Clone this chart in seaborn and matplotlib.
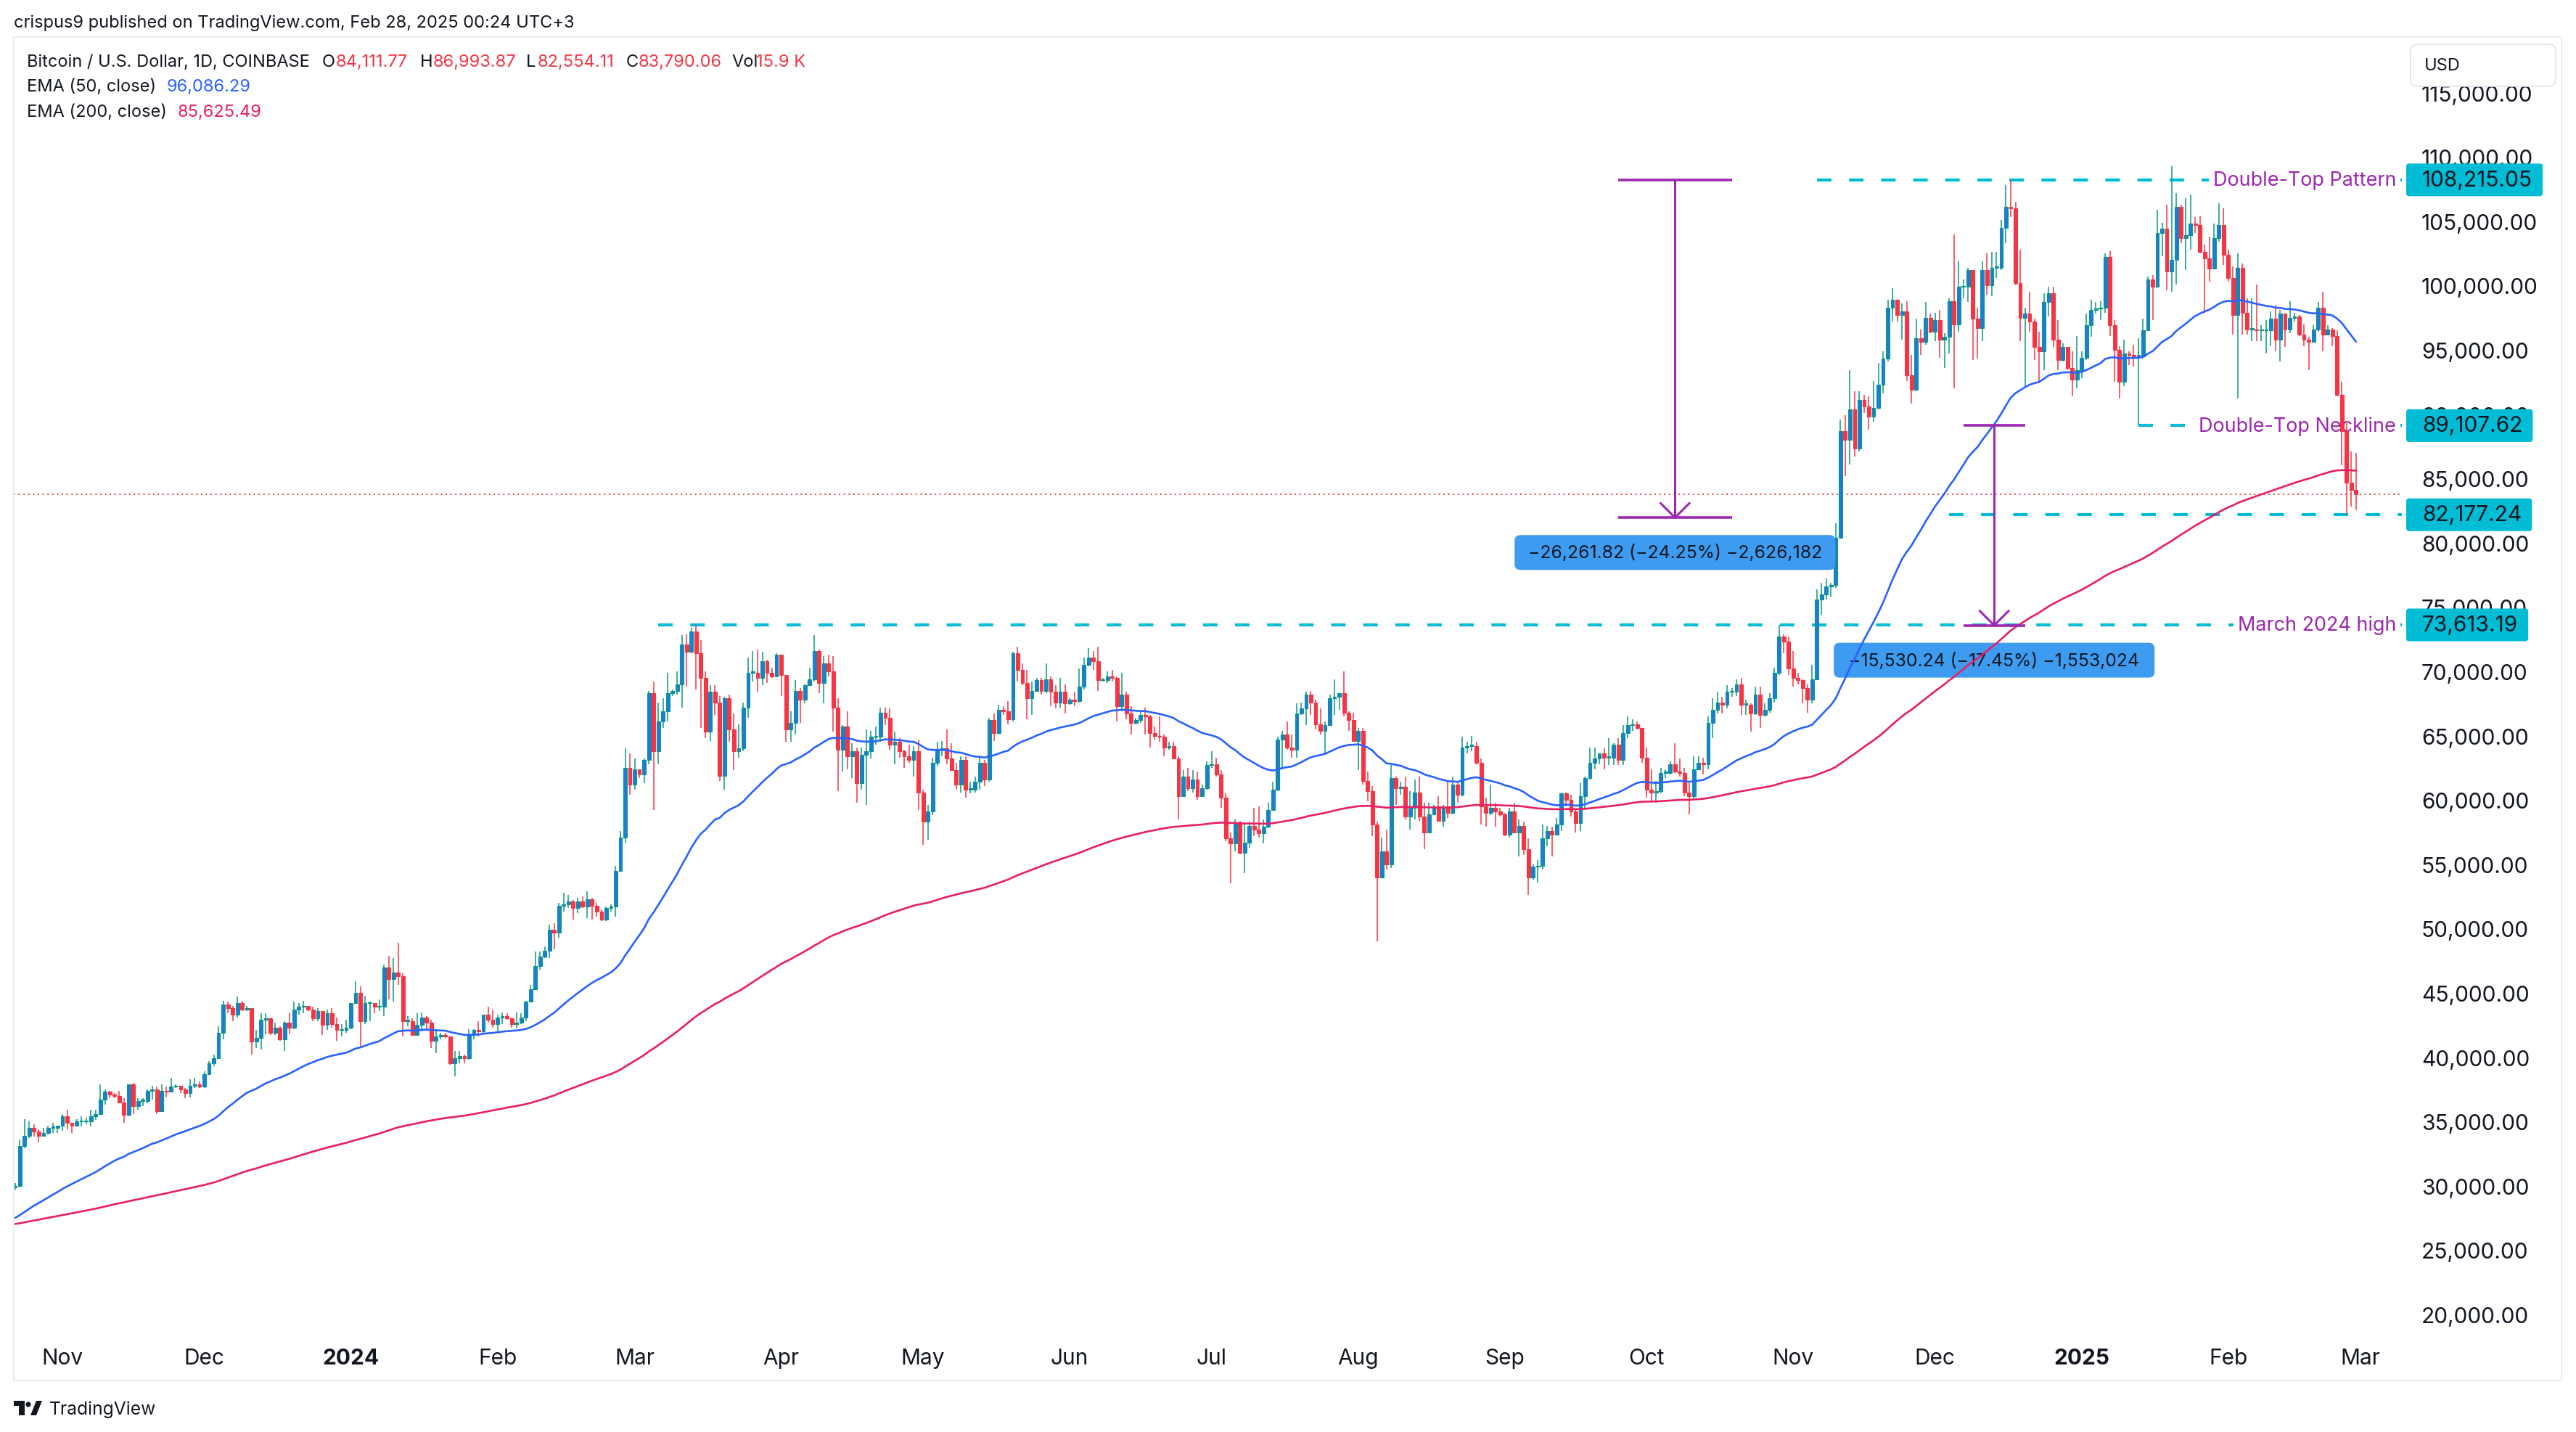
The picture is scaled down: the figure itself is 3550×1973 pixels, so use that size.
import numpy as np
import pandas as pd
import matplotlib
matplotlib.use("Agg")
import matplotlib.pyplot as plt
import matplotlib.transforms as mtrans
from matplotlib.patches import FancyBboxPatch, Polygon, Circle, Rectangle
import seaborn as sns

# ---------------------------------------------------------------- data
# BTC/USD daily candles (Coinbase), values in thousands of USD
start_date = "2023-10-22"
end_date = "2025-02-28"
first_open_k = 29.9

close_k = [
    # 2023-10 (22..31)
    [30.0, 33.1, 33.9, 34.5, 34.2, 33.9, 34.1, 34.5, 34.5, 34.7],
    # 2023-11
    [35.4, 34.9, 34.7, 35.0, 35.0, 35.0, 35.4, 35.6, 36.7, 37.3,
     37.1, 37.0, 36.5, 35.5, 37.9, 36.2, 36.6, 36.6, 37.4, 37.5,
     35.8, 37.4, 37.3, 37.7, 37.8, 37.5, 37.2, 37.8, 37.9, 37.7],
    # 2023-12
    [38.7, 39.5, 39.9, 41.9, 44.1, 43.8, 43.3, 44.2, 43.7, 43.8,
     41.2, 41.5, 42.9, 43.0, 41.9, 42.3, 41.4, 42.7, 42.3, 43.7,
     43.9, 44.0, 43.7, 43.0, 43.6, 42.5, 43.4, 42.6, 42.1, 42.1,
     42.3],
    # 2024-01
    [44.2, 45.0, 42.8, 44.2, 44.2, 43.9, 43.9, 47.0, 46.1, 46.6,
     46.3, 42.8, 42.8, 41.7, 42.5, 43.1, 42.7, 41.3, 41.6, 41.7,
     41.6, 39.5, 39.9, 40.1, 39.9, 41.8, 42.1, 42.0, 43.3, 42.9,
     42.6],
    # 2024-02
    [43.1, 43.2, 43.0, 42.6, 42.7, 43.1, 44.3, 45.3, 47.1, 47.8,
     48.3, 49.9, 49.7, 51.8, 51.9, 52.1, 51.6, 52.1, 51.7, 52.3,
     51.8, 51.3, 50.7, 51.6, 51.7, 54.5, 57.1, 62.5, 61.2],
    # 2024-03
    [62.4, 62.0, 63.1, 68.3, 63.8, 66.1, 66.9, 68.3, 68.5, 69.0,
     72.1, 71.5, 73.1, 71.4, 69.5, 65.3, 68.4, 67.6, 61.9, 67.9,
     65.5, 63.8, 64.0, 67.2, 69.9, 69.9, 69.5, 70.8, 69.9, 69.6,
     71.3],
    # 2024-04
    [69.7, 65.5, 66.0, 68.5, 67.8, 68.9, 69.4, 71.6, 69.1, 70.6,
     70.0, 67.2, 63.9, 65.7, 63.4, 63.8, 61.3, 63.5, 63.8, 64.9,
     64.9, 66.8, 66.4, 64.3, 64.5, 63.8, 63.4, 63.1, 63.8, 60.6],
    # 2024-05
    [58.3, 59.1, 62.9, 63.9, 64.0, 63.2, 62.3, 61.2, 63.1, 60.8,
     60.8, 61.4, 62.9, 61.6, 66.2, 65.2, 67.0, 66.9, 66.3, 71.4,
     70.1, 69.1, 67.9, 68.5, 69.3, 68.5, 69.4, 68.4, 67.6, 68.4,
     67.5],
    # 2024-06
    [67.8, 67.7, 68.8, 70.5, 71.1, 70.8, 69.3, 69.3, 69.6, 69.5,
     67.3, 68.2, 66.7, 66.0, 66.2, 66.6, 66.5, 65.2, 65.0, 64.9,
     64.1, 64.2, 63.2, 60.3, 61.8, 60.9, 61.6, 60.3, 60.9, 62.7],
    # 2024-07
    [62.8, 62.0, 60.2, 57.0, 56.6, 58.2, 55.9, 56.7, 58.0, 57.7,
     57.4, 57.9, 59.2, 60.8, 64.7, 65.1, 64.1, 63.9, 66.7, 67.1,
     68.2, 67.6, 65.9, 65.4, 65.8, 67.9, 68.0, 68.3, 66.8, 66.2,
     64.6],
    # 2024-08
    [65.4, 61.5, 60.7, 58.1, 54.0, 56.0, 55.0, 61.7, 60.9, 61.0,
     58.7, 59.4, 60.6, 58.7, 57.5, 58.9, 59.5, 58.4, 59.5, 59.0,
     61.2, 60.4, 64.1, 64.2, 64.2, 62.9, 59.5, 59.0, 59.4, 59.1,
     58.9],
    # 2024-09
    [57.3, 59.1, 57.5, 58.0, 56.2, 54.0, 54.8, 54.9, 57.0, 57.6,
     57.3, 58.1, 60.5, 60.0, 59.1, 58.2, 60.3, 61.7, 62.9, 63.2,
     63.6, 63.3, 63.3, 64.3, 63.1, 65.2, 65.8, 65.9, 65.6, 63.3],
    # 2024-10
    [60.8, 60.6, 60.7, 62.1, 62.1, 62.8, 62.2, 62.1, 60.6, 60.3,
     62.4, 62.9, 62.8, 66.0, 67.0, 67.6, 67.4, 68.4, 68.4, 69.0,
     67.4, 67.4, 66.7, 68.2, 66.6, 67.0, 67.9, 69.9, 72.7, 72.3,
     70.2],
    # 2024-11
    [69.5, 69.3, 68.7, 67.8, 69.4, 75.6, 76.0, 76.6, 76.7, 80.4,
     88.7, 88.0, 90.4, 87.3, 91.1, 90.6, 89.8, 90.5, 92.3, 94.3,
     98.3, 98.9, 97.7, 98.0, 93.0, 91.9, 95.9, 95.6, 97.5, 96.4],
    # 2024-12
    [97.3, 95.8, 96.0, 98.8, 97.0, 99.9, 99.9, 101.2, 97.4, 96.7,
     101.2, 100.0, 101.4, 101.4, 104.5, 106.1, 106.0, 100.2, 97.5, 97.8,
     97.2, 95.2, 94.9, 98.7, 99.4, 95.8, 94.2, 95.2, 93.6, 92.7,
     93.4],
    # 2025-01
    [94.4, 96.9, 98.1, 98.2, 98.3, 102.2, 96.9, 95.0, 92.5, 94.7,
     94.6, 94.5, 94.5, 96.5, 100.5, 99.9, 104.1, 104.4, 101.1, 102.0,
     106.1, 103.7, 103.9, 104.8, 104.7, 102.6, 102.1, 101.3, 103.7, 104.7,
     102.4],
    # 2025-02
    [100.6, 97.7, 101.4, 97.9, 96.6, 96.6, 96.5, 96.5, 96.5, 97.4,
     95.8, 97.8, 96.6, 97.5, 97.6, 96.2, 95.8, 95.6, 96.6, 98.3,
     96.2, 96.6, 96.1, 91.5, 88.7, 84.7, 84.11177, 83.79006],
]

high_k = [
    [30.2, 33.6, 35.2, 35.0, 34.8, 34.4, 34.5, 34.7, 34.9, 34.7],
    [35.6, 35.9, 34.9, 35.2, 35.4, 35.3, 35.9, 35.9, 37.9, 37.5,
     37.4, 37.2, 37.4, 36.8, 37.9, 38.0, 36.8, 36.8, 37.5, 37.8,
     37.7, 37.9, 37.7, 38.4, 37.9, 37.8, 37.6, 38.3, 38.4, 38.1],
    [38.9, 39.7, 40.2, 42.4, 44.4, 44.3, 44.0, 44.7, 44.4, 44.0,
     43.8, 42.1, 43.4, 43.4, 43.1, 42.7, 42.4, 42.8, 43.5, 44.3,
     44.2, 44.4, 44.0, 43.9, 43.8, 43.6, 43.7, 43.8, 43.1, 42.6,
     42.9],
    [44.2, 45.9, 45.5, 44.8, 44.3, 44.2, 44.5, 47.2, 47.9, 47.7,
     48.9, 46.5, 43.2, 43.0, 43.4, 43.5, 43.2, 42.9, 42.2, 41.9,
     41.9, 41.6, 40.5, 40.5, 40.2, 42.2, 42.2, 42.8, 43.3, 43.9,
     43.7],
    [43.3, 43.5, 43.4, 43.1, 43.5, 43.4, 44.4, 45.6, 48.2, 48.2,
     48.6, 50.3, 50.4, 52.0, 52.8, 52.6, 52.2, 52.4, 52.5, 52.9,
     52.4, 52.0, 51.5, 51.7, 51.9, 54.9, 57.6, 64.0, 63.6],
    [63.2, 62.4, 63.2, 68.5, 69.2, 67.6, 67.9, 69.9, 68.6, 70.0,
     72.8, 72.9, 73.4, 73.61319, 72.4, 70.0, 68.9, 68.9, 68.1, 68.0,
     68.2, 66.7, 65.9, 67.6, 71.1, 71.6, 71.7, 71.5, 70.9, 70.3,
     71.4],
    [71.3, 69.7, 66.9, 69.3, 68.7, 69.0, 70.3, 72.8, 71.7, 71.2,
     71.3, 71.2, 67.9, 65.8, 66.9, 64.4, 64.1, 64.1, 65.5, 65.4,
     65.7, 67.2, 67.2, 67.1, 65.3, 64.8, 63.9, 64.3, 64.2, 64.7],
    [60.8, 59.6, 63.3, 64.5, 64.6, 65.5, 64.4, 62.9, 63.4, 63.4,
     61.4, 61.8, 63.4, 63.1, 66.4, 66.7, 67.4, 67.3, 67.7, 71.5,
     71.9, 70.6, 70.1, 69.2, 69.5, 69.5, 70.6, 69.6, 68.9, 69.5,
     69.0],
    [67.9, 68.4, 70.2, 71.1, 71.8, 71.6, 71.9, 69.5, 70.0, 70.1,
     69.6, 69.9, 68.4, 67.3, 66.4, 66.9, 67.2, 66.6, 65.7, 66.5,
     65.1, 64.5, 64.5, 63.4, 62.3, 62.5, 62.3, 62.2, 61.2, 63.0],
    [63.8, 63.3, 62.3, 60.5, 57.5, 58.5, 58.4, 58.2, 58.3, 59.4,
     59.5, 58.5, 59.8, 61.4, 64.9, 65.4, 66.1, 65.1, 67.5, 67.6,
     68.4, 68.5, 67.8, 67.1, 66.1, 68.2, 69.4, 68.3, 70.0, 66.9,
     66.8],
    [65.6, 65.6, 62.2, 61.1, 58.3, 57.1, 57.7, 62.7, 61.8, 61.4,
     61.8, 60.7, 61.6, 61.8, 59.8, 59.8, 59.6, 60.3, 59.6, 61.4,
     61.8, 61.4, 64.9, 64.5, 65.0, 64.5, 63.2, 60.2, 61.2, 59.8,
     59.4],
    [59.0, 59.4, 59.8, 58.5, 58.3, 57.0, 55.0, 55.3, 58.1, 58.0,
     57.9, 58.6, 60.6, 60.6, 60.4, 59.2, 61.3, 61.8, 64.1, 64.1,
     63.6, 64.0, 64.8, 64.4, 64.8, 65.8, 66.5, 66.3, 66.1, 65.6],
    [64.1, 62.4, 61.5, 62.5, 62.4, 63.0, 64.4, 63.2, 62.5, 61.3,
     63.4, 63.4, 63.3, 66.5, 67.9, 68.4, 68.0, 68.9, 68.7, 69.4,
     69.5, 67.8, 67.5, 68.8, 68.8, 67.5, 68.3, 70.3, 73.6, 72.9,
     72.7],
    [71.6, 69.9, 69.4, 69.0, 70.5, 76.4, 76.9, 77.2, 76.9, 81.5,
     89.6, 89.9, 93.4, 91.8, 91.8, 91.5, 91.4, 92.6, 94.0, 94.9,
     98.9, 99.8, 98.8, 98.6, 98.8, 94.6, 97.4, 96.6, 98.7, 97.8],
    [97.9, 98.1, 96.3, 99.0, 104.0, 101.9, 100.5, 101.4, 101.2, 98.3,
     101.9, 102.5, 102.6, 102.6, 105.1, 107.8, 108.21505, 106.5, 102.8, 98.3,
     99.5, 97.4, 96.4, 99.4, 99.9, 99.9, 97.3, 95.5, 95.2, 94.9,
     96.1],
    [94.9, 97.8, 98.9, 98.7, 98.8, 102.5, 102.7, 97.3, 95.3, 95.8,
     94.9, 95.4, 95.9, 97.4, 100.7, 100.8, 105.9, 104.9, 106.3, 109.3,
     107.2, 106.3, 106.8, 107.1, 105.3, 105.4, 103.2, 103.8, 104.8, 106.4,
     106.0],
    [102.8, 101.5, 102.5, 101.7, 99.0, 99.0, 100.1, 96.9, 97.3, 98.0,
     98.5, 98.1, 97.3, 98.8, 97.9, 97.7, 97.0, 96.0, 96.9, 98.7,
     99.5, 96.9, 96.7, 96.5, 92.5, 89.3, 87.1, 86.99387],
]

low_k = [
    [29.7, 29.9, 32.9, 33.7, 33.8, 33.4, 33.9, 34.0, 34.1, 34.1],
    [34.3, 34.4, 34.1, 34.6, 34.6, 34.8, 34.6, 35.1, 35.5, 36.3,
     36.8, 36.8, 36.4, 34.9, 35.4, 35.6, 35.9, 36.2, 36.4, 36.7,
     35.6, 35.8, 36.9, 37.3, 37.6, 37.2, 36.8, 36.9, 37.6, 37.6],
    [37.6, 38.6, 39.3, 39.9, 41.4, 43.4, 42.8, 43.1, 43.6, 43.6,
     40.2, 40.7, 40.6, 41.8, 41.7, 41.7, 41.3, 40.5, 41.8, 42.2,
     43.3, 43.4, 43.6, 42.8, 42.8, 41.7, 42.1, 42.3, 41.3, 41.6,
     41.9],
    [42.2, 44.2, 40.8, 42.6, 42.8, 43.4, 43.6, 43.2, 44.5, 44.3,
     45.6, 41.6, 42.4, 41.7, 41.7, 42.0, 42.2, 40.7, 40.3, 41.4,
     41.5, 39.4, 38.5, 39.5, 39.5, 39.8, 41.4, 41.6, 41.8, 42.7,
     42.3],
    [41.9, 42.6, 42.9, 42.3, 42.3, 42.6, 42.8, 44.3, 45.3, 46.8,
     47.7, 47.7, 48.4, 49.3, 51.3, 51.6, 50.7, 51.2, 51.6, 50.8,
     50.7, 50.9, 50.6, 50.6, 51.3, 50.9, 54.5, 56.7, 60.4],
    [60.8, 61.7, 61.3, 62.8, 59.2, 62.8, 65.6, 66.1, 68.1, 68.2,
     67.2, 68.8, 71.4, 68.6, 65.6, 64.8, 64.6, 66.6, 61.5, 60.8,
     64.5, 62.3, 63.3, 63.8, 66.4, 69.2, 68.4, 68.9, 69.1, 69.5,
     69.6],
    [68.1, 64.5, 64.5, 65.1, 66.0, 67.5, 68.9, 69.2, 68.3, 67.5,
     69.6, 65.3, 60.7, 62.2, 62.4, 61.7, 59.8, 60.8, 59.6, 63.2,
     64.3, 64.5, 65.8, 63.9, 62.8, 63.3, 62.5, 62.9, 61.8, 59.2],
    [56.5, 56.9, 58.8, 62.6, 63.4, 62.8, 62.3, 60.8, 60.6, 60.2,
     60.5, 60.6, 60.8, 61.1, 61.4, 64.6, 65.1, 66.6, 65.9, 66.1,
     69.2, 68.9, 66.3, 66.6, 68.5, 68.2, 68.3, 67.3, 67.1, 67.2,
     66.7],
    [67.4, 67.3, 67.6, 68.6, 70.4, 70.1, 68.5, 69.2, 69.1, 69.2,
     66.1, 66.9, 66.3, 65.1, 65.9, 66.0, 65.1, 64.1, 64.7, 64.5,
     63.4, 63.9, 63.2, 58.5, 60.3, 60.7, 60.6, 60.0, 60.4, 60.8],
    [62.5, 61.8, 59.4, 56.8, 53.5, 56.0, 55.8, 54.3, 56.3, 57.2,
     57.1, 56.6, 57.8, 59.2, 60.7, 62.4, 63.9, 63.3, 63.3, 66.6,
     65.8, 66.6, 65.5, 65.1, 63.5, 65.8, 66.6, 67.0, 66.5, 65.4,
     64.5],
    [62.3, 61.2, 59.9, 57.2, 49.0, 54.0, 54.6, 54.7, 59.6, 60.4,
     58.5, 57.7, 58.5, 58.4, 56.2, 57.5, 58.8, 58.4, 57.9, 58.6,
     58.9, 59.8, 60.3, 63.6, 63.8, 62.8, 58.1, 57.9, 58.8, 57.9,
     58.7],
    [57.2, 57.1, 57.4, 55.6, 55.7, 52.6, 53.8, 53.6, 54.6, 56.4,
     55.6, 57.3, 57.6, 59.5, 58.7, 57.5, 57.6, 59.2, 61.6, 62.4,
     62.8, 62.4, 62.7, 62.7, 62.7, 62.7, 64.8, 65.4, 65.5, 62.9],
    [60.2, 59.9, 59.8, 60.5, 61.7, 62.0, 62.1, 61.8, 60.3, 58.9,
     60.1, 62.3, 62.0, 62.4, 64.8, 66.7, 66.7, 67.1, 68.0, 68.1,
     66.6, 66.6, 65.3, 66.6, 65.6, 66.5, 66.8, 67.6, 69.7, 71.4,
     69.7],
    [68.8, 69.0, 67.5, 66.8, 67.5, 69.3, 74.4, 75.6, 75.8, 76.5,
     80.3, 85.2, 86.1, 86.7, 87.1, 90.1, 88.8, 89.4, 90.4, 91.6,
     94.1, 97.2, 97.2, 95.8, 92.6, 90.8, 91.8, 94.6, 95.4, 96.3],
    [95.7, 94.4, 93.6, 94.7, 92.0, 96.4, 99.0, 98.7, 94.2, 94.3,
     95.7, 99.3, 99.2, 100.6, 101.2, 103.3, 105.3, 100.0, 95.7, 92.1,
     96.4, 94.2, 92.4, 93.4, 97.6, 95.2, 93.4, 94.1, 93.4, 91.4,
     92.0],
    [92.8, 94.2, 96.0, 97.8, 97.3, 97.9, 96.1, 92.5, 91.2, 92.2,
     93.8, 93.7, 89.10762, 94.3, 96.5, 97.3, 99.9, 102.3, 99.6, 99.5,
     100.1, 103.3, 101.2, 102.8, 104.1, 102.5, 97.8, 100.3, 101.3, 103.4,
     101.6],
    [100.3, 96.2, 91.2, 96.2, 96.2, 95.7, 95.7, 95.7, 94.7, 95.3,
     94.9, 94.1, 95.2, 96.3, 97.2, 96.1, 95.3, 93.4, 95.6, 96.4,
     94.9, 96.2, 95.3, 91.4, 86.0, 82.17724, 82.8, 82.55411],
]

last_open = 84111.77
ema50_seed = 27400.0     # EMA values just before the first visible candle
ema200_seed = 27000.0

header_text = "crispus9 published on TradingView.com, Feb 28, 2025 00:24 UTC+3"
symbol_text = "Bitcoin / U.S. Dollar, 1D, COINBASE"
ohlc_labels = ["O", "H", "L", "C", "Vol"]
ohlc_values = ["84,111.77", "86,993.87", "82,554.11", "83,790.06", "15.9 K"]
ema_labels = ["EMA (50, close)", "EMA (200, close)"]
ema_values = ["96,086.29", "85,625.49"]

price_ticks = list(range(20000, 115001, 5000))
month_ticks = ["2023-11-01", "2023-12-01", "2024-01-01", "2024-02-01", "2024-03-01",
               "2024-04-01", "2024-05-01", "2024-06-01", "2024-07-01", "2024-08-01",
               "2024-09-01", "2024-10-01", "2024-11-01", "2024-12-01", "2025-01-01",
               "2025-02-01", "2025-03-01"]
month_labels = ["Nov", "Dec", "2024", "Feb", "Mar", "Apr", "May", "Jun", "Jul", "Aug",
                "Sep", "Oct", "Nov", "Dec", "2025", "Feb", "Mar"]

# horizontal levels: price, start date, label
level_prices = [108215.05, 89107.62, 82177.24, 73613.19]
level_starts = ["2024-11-06", "2025-01-13", "2024-12-04", "2024-03-06"]
level_labels = ["Double-Top Pattern", "Double-Top Neckline", None, "March 2024 high"]

# price-range measurements: start, end, from price, change, label
measure_starts = ["2024-09-25", "2024-12-07"]
measure_ends = ["2024-10-19", "2024-12-20"]
measure_from = [108215.05, 89107.62]
measure_change = [-26261.82, -15530.24]
measure_labels = ["\u221226,261.82 (\u221224.25%) \u22122,626,182",
                  "\u221215,530.24 (\u221217.45%) \u22121,553,024"]

# ---------------------------------------------------------------- style
W, H, DPI = 3550, 1974, 100
DARK = "#131722"
UP = "#089981"
UP_FACE = "#1F7BD8"
DOWN = "#F23645"
BLUE = "#2962FF"
PINK = "#E91E63"
CYAN = "#00BCD4"
PURPLE = "#9C27B0"
LABEL_BLUE = "#3D9BF0"

sns.set_theme(style="white")
plt.rcParams["font.family"] = ["Inter", "DejaVu Sans"]
plt.rcParams["axes.unicode_minus"] = False

fig = plt.figure(figsize=(W / DPI, H / DPI), dpi=DPI, facecolor="white")
IDT = mtrans.IdentityTransform()


def fx(px):
    return px / W


def fy(py):
    return 1 - py / H


PANE_L, PANE_R, PANE_T, PANE_B = 19, 3310, 52, 1840
ax = fig.add_axes([fx(PANE_L), fy(PANE_B), (PANE_R - PANE_L) / W, (PANE_B - PANE_T) / H])
ax.set_facecolor("white")
for s in ax.spines.values():
    s.set_visible(False)

# axis calibration (pixel of Nov 1 2023, px per day, pixel of 20k, px per 1k)
X0_PX, PX_PER_DAY = 86.0, 6.517
Y20_PX, PX_PER_K = 1812.0, 17.72
ax.set_xlim((PANE_L - X0_PX) / PX_PER_DAY, (PANE_R - X0_PX) / PX_PER_DAY)
ax.set_ylim(20000 - (PANE_B - Y20_PX) / PX_PER_K * 1000,
            20000 + (Y20_PX - PANE_T) / PX_PER_K * 1000)

REF = pd.Timestamp("2023-11-01")


def day(d):
    return (pd.Timestamp(d) - REF) / pd.Timedelta(days=1)


# ---------------------------------------------------------------- candles
dates = pd.date_range(start_date, end_date, freq="D")
counts = pd.Series(1, index=dates.to_period("M")).groupby(level=0).sum().tolist()
for name, arr in (("close", close_k), ("high", high_k), ("low", low_k)):
    assert [len(m) for m in arr] == counts, (name, [len(m) for m in arr], counts)

close = np.array([v for m in close_k for v in m]) * 1000
high = np.array([v for m in high_k for v in m]) * 1000
low = np.array([v for m in low_k for v in m]) * 1000
open_ = np.r_[first_open_k * 1000, close[:-1]]
open_[-1] = last_open
high = np.maximum(high, np.maximum(open_, close))
low = np.minimum(low, np.minimum(open_, close))
xday = np.array([(d - REF) / pd.Timedelta(days=1) for d in dates])

up = close >= open_
wick_cols = np.where(up, UP, DOWN)
face_cols = np.where(up, UP_FACE, DOWN)
edge_cols = np.where(up, UP, DOWN)
min_h = 1.6 / PX_PER_K * 1000
body_b = np.minimum(open_, close)
body_h = np.maximum(np.abs(close - open_), min_h)

ax.vlines(xday, low, high, colors=wick_cols, linewidth=1.1, zorder=4)
ax.bar(xday, body_h, bottom=body_b, width=0.74, color=face_cols,
       edgecolor=edge_cols, linewidth=0.8, zorder=5)


def ema(values, span, seed):
    a = 2.0 / (span + 1)
    out = np.empty_like(values)
    e = seed
    for i, v in enumerate(values):
        e += a * (v - e)
        out[i] = e
    return out


ema50 = ema(close, 50, ema50_seed)
ema200 = ema(close, 200, ema200_seed)
sns.lineplot(x=xday, y=ema50, ax=ax, color=BLUE, linewidth=1.9, zorder=6, estimator=None)
sns.lineplot(x=xday, y=ema200, ax=ax, color=PINK, linewidth=1.9, zorder=6, estimator=None)

# last price line
ax.axhline(close[-1], color=DOWN, linewidth=1.4, linestyle=(0, (1, 2.4)), zorder=2)

# ---------------------------------------------------------------- axes ticks
ax.yaxis.tick_right()
ax.set_yticks(price_ticks)
ax.set_yticklabels([f"{v:,.2f}" for v in price_ticks])
ax.tick_params(axis="y", length=0, pad=(3337 - PANE_R) * 0.72, labelsize=21.5, colors=DARK)
ax.set_xticks([day(d) for d in month_ticks])
ax.set_xticklabels(month_labels)
ax.tick_params(axis="x", length=0, pad=13, labelsize=21.5, colors=DARK)
for lbl in ax.get_xticklabels():
    if lbl.get_text().isdigit():
        lbl.set_fontweight("bold")
ax.grid(False)
ax.set_xlabel("")
ax.set_ylabel("")

# ---------------------------------------------------------------- levels
blend = mtrans.blended_transform_factory(ax.transAxes, ax.transData)
xr = ax.get_xlim()[1]
lvl_texts = []
for p, s, lab in zip(level_prices, level_starts, level_labels):
    ax.plot([day(s), xr], [p, p], color=CYAN, linewidth=3.0,
            linestyle=(0, (4.8, 5.8)), dash_capstyle="butt", zorder=2)
    if lab:
        t = ax.text((3302 - PANE_L) / (PANE_R - PANE_L), p, lab, transform=blend,
                    ha="right", va="center", color=PURPLE, fontsize=18,
                    bbox=dict(facecolor="white", edgecolor="none", pad=4), zorder=3)
        lvl_texts.append(t)

# ---------------------------------------------------------------- measurements
dx = 20 / PX_PER_DAY
dy = 20 / PX_PER_K * 1000
meas_texts = []
for s, e, p0, ch, lab in zip(measure_starts, measure_ends, measure_from,
                             measure_change, measure_labels):
    x0, x1 = day(s), day(e)
    xm = (x0 + x1) / 2
    p1 = p0 + ch
    for pp in (p0, p1):
        ax.plot([x0, x1], [pp, pp], color=PURPLE, linewidth=2.6,
                solid_capstyle="butt", zorder=7)
    ax.plot([xm, xm], [p0, p1], color=PURPLE, linewidth=2.2, zorder=7)
    ax.plot([xm - dx, xm, xm + dx], [p1 + dy, p1, p1 + dy], color=PURPLE,
            linewidth=2.2, zorder=7)
    meas_texts.append((xm, p1, lab))

fig.canvas.draw()
R = fig.canvas.get_renderer()


def width(t):
    return t.get_window_extent(R).width


def fit(t, target):
    t.set_fontsize(t.get_fontsize() * target / width(t))


# level label size
fit(lvl_texts[0], 252)
for t in lvl_texts[1:]:
    t.set_fontsize(lvl_texts[0].get_fontsize())

# measurement label boxes
mt_size = None
for xm, p1, lab in meas_texts:
    cx, cy = ax.transData.transform((xm, p1))
    cy -= 48
    box = FancyBboxPatch((cx - 221, cy - 24), 442, 48,
                         boxstyle="round,pad=0,rounding_size=8",
                         facecolor=LABEL_BLUE, edgecolor="none", transform=IDT, zorder=5.5)
    ax.add_artist(box)
    t = ax.text(cx, cy, lab, transform=IDT, ha="center", va="center",
                color=DARK, fontsize=18, zorder=5.6)
    if mt_size is None:
        fit(t, 405)
        mt_size = t.get_fontsize()
    else:
        t.set_fontsize(mt_size)

# ---------------------------------------------------------------- price-axis boxes
for p in level_prices:
    _, cy = ax.transData.transform((0, p))
    t = fig.text(fx(3338), cy / H, f"{p:,.2f}", color=DARK, fontsize=21.5,
                 ha="left", va="center", zorder=21)
    w = width(t)
    box = FancyBboxPatch((3316, cy - 22.5), (3338 - 3316) + w + 14, 45,
                         boxstyle="round,pad=0,rounding_size=4",
                         facecolor=CYAN, edgecolor="none", transform=IDT, zorder=20)
    fig.add_artist(box)

# USD box
usd = FancyBboxPatch((3322, H - 120), 200, 58, boxstyle="round,pad=0,rounding_size=10",
                     facecolor="white", edgecolor="#E0E3EB", linewidth=1.2,
                     transform=IDT, zorder=20)
fig.add_artist(usd)
fig.text(fx(3341), fy(91), "USD", color=DARK, fontsize=17, ha="left", va="center", zorder=21)

# panel border
fig.add_artist(Rectangle((PANE_L, H - 1903), 3530 - PANE_L, 1903 - 52, transform=IDT,
                         facecolor="none", edgecolor="#ECEDEF", linewidth=1.5, zorder=30))

# ---------------------------------------------------------------- header / legend
hdr = fig.text(fx(19), fy(32), header_text, color=DARK, fontsize=17, ha="left", va="center")
fit(hdr, 773)
sym = fig.text(fx(37), fy(86), symbol_text, color=DARK, fontsize=17, ha="left", va="center")
fit(sym, 390)
fs = sym.get_fontsize()
lab_x = [444, 579, 725, 863, 1008]
val_x = [463, 597, 741, 880, 1042]
for lx, vx, l, v in zip(lab_x, val_x, ohlc_labels, ohlc_values):
    fig.text(fx(lx), fy(86), l, color=DARK, fontsize=fs, ha="left", va="center")
    fig.text(fx(vx), fy(86), v, color=DOWN, fontsize=fs, ha="left", va="center")
for yy, l, v, vx, col in zip([120, 155], ema_labels, ema_values, [230, 245], [BLUE, PINK]):
    fig.text(fx(37), fy(yy), l, color=DARK, fontsize=fs, ha="left", va="center")
    fig.text(fx(vx), fy(yy), v, color=col, fontsize=fs, ha="left", va="center")

# ---------------------------------------------------------------- TradingView logo
logo_y = 1942
fig.add_artist(Rectangle((19, H - logo_y + 4), 15, 7, transform=IDT, facecolor=DARK,
                         edgecolor="none"))
fig.add_artist(Rectangle((26, H - logo_y - 9), 8, 20, transform=IDT,
                         facecolor=DARK, edgecolor="none"))
fig.add_artist(Circle((39, H - logo_y + 6), 3.6, transform=IDT, facecolor=DARK,
                      edgecolor="none"))
fig.add_artist(Polygon([(42, H - logo_y - 9), (50, H - logo_y - 9),
                        (58, H - logo_y + 11), (50, H - logo_y + 11)],
                       closed=True, transform=IDT, facecolor=DARK, edgecolor="none"))
tv = fig.text(fx(68), fy(logo_y), "TradingView", color=DARK, fontsize=16,
              ha="left", va="center")
fit(tv, 148)

fig.savefig("out.png", dpi=DPI, facecolor="white")
